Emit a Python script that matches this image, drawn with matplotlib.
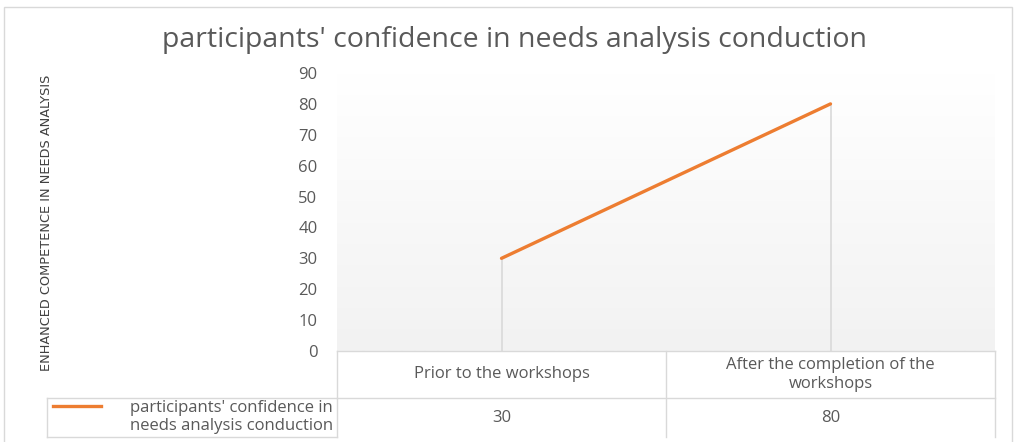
import numpy as np
import matplotlib.pyplot as plt
from matplotlib.colors import LinearSegmentedColormap
from matplotlib.patches import Rectangle
from matplotlib.transforms import blended_transform_factory

# data
categories = ['Prior to the workshops', 'After the completion of the\nworkshops']
values = [30, 80]
series_name = "participants' confidence in\nneeds analysis conduction"
yticks = list(range(0, 100, 10))

W, H = 1014, 442
fig = plt.figure(figsize=(W / 100, H / 100), dpi=100)
plt.rcParams['font.family'] = ['Open Sans', 'DejaVu Sans']

# plot area in pixels
left, right, top, bottom = 337, 995, 73, 351
ax = fig.add_axes([left / W, 1 - bottom / H, (right - left) / W, (bottom - top) / H])

grey = '#595959'
border = '#d9d9d9'
orange = '#ED7D31'

# gradient background
grad = np.linspace(0, 1, 256).reshape(-1, 1)
cmap = LinearSegmentedColormap.from_list('g', ['#ffffff', '#f2f2f2'])
ax.imshow(grad, cmap=cmap, extent=[0, 1, 0, 1], transform=ax.transAxes,
          aspect='auto', zorder=0, origin='upper')

x = np.arange(len(categories))
ax.vlines(x, 0, values, color=border, lw=1.2, zorder=1)
ax.plot(x, values, color=orange, lw=2.4, solid_capstyle='round', zorder=3)

ax.set_xlim(-0.5, len(categories) - 0.5)
ax.set_ylim(0, 90)

for s in ax.spines.values():
    s.set_visible(False)
ax.set_xticks([])
ax.set_yticks(yticks)
ax.tick_params(axis='y', length=0, pad=14, labelsize=12, labelcolor=grey)

# y label
fig.text(47 / W, 1 - 223 / H, 'ENHANCED COMPETENCE IN NEEDS ANALYSIS', rotation=90,
         ha='center', va='center', fontsize=9.3, color='#404040',
         family=['Liberation Sans Narrow', 'DejaVu Sans'])

# title
fig.text(514 / W, 1 - 40 / H, "participants' confidence in needs analysis conduction",
         ha='center', va='center', fontsize=20.5, color=grey)

# data table below the axis
tr = blended_transform_factory(ax.transData, ax.transAxes)
ph = bottom - top
hdr_bot = -(398 - bottom) / ph
row_bot = -(437 - bottom) / ph
edges = np.arange(len(categories) + 1) - 0.5
ax.plot([edges[0], edges[-1]], [0, 0], color=border, lw=1, transform=tr, clip_on=False)
ax.plot([edges[0], edges[-1]], [hdr_bot, hdr_bot], color=border, lw=1, transform=tr, clip_on=False)
for e in edges:
    ax.plot([e, e], [0, row_bot], color=border, lw=1, transform=tr, clip_on=False)
for i, (c, v) in enumerate(zip(categories, values)):
    ax.text(i, hdr_bot / 2, c, transform=tr, ha='center', va='center', fontsize=12,
            color=grey, linespacing=1.25)
    ax.text(i, (hdr_bot + row_bot) / 2, str(v), transform=tr, ha='center', va='center',
            fontsize=12, color=grey)

# legend column of the table (figure pixels)
def fy(py):
    return 1 - py / H
fig.add_artist(plt.Line2D([47 / W, left / W], [fy(437), fy(437)], color=border, lw=1))
fig.add_artist(plt.Line2D([47 / W, left / W], [fy(398), fy(398)], color=border, lw=1))
fig.add_artist(plt.Line2D([47 / W, 47 / W], [fy(398), fy(437)], color=border, lw=1))
fig.add_artist(plt.Line2D([53 / W, 101 / W], [fy(406), fy(406)], color=orange, lw=2.4))
fig.text(333 / W, fy(417), series_name, ha='right', va='center', fontsize=12,
         color=grey, linespacing=1.25)

# chart border
fig.add_artist(Rectangle((4 / W, -0.05), 1008 / W, fy(7) + 0.05, transform=fig.transFigure,
                         fill=False, edgecolor=border, lw=1))

fig.savefig('out.png', dpi=100)
